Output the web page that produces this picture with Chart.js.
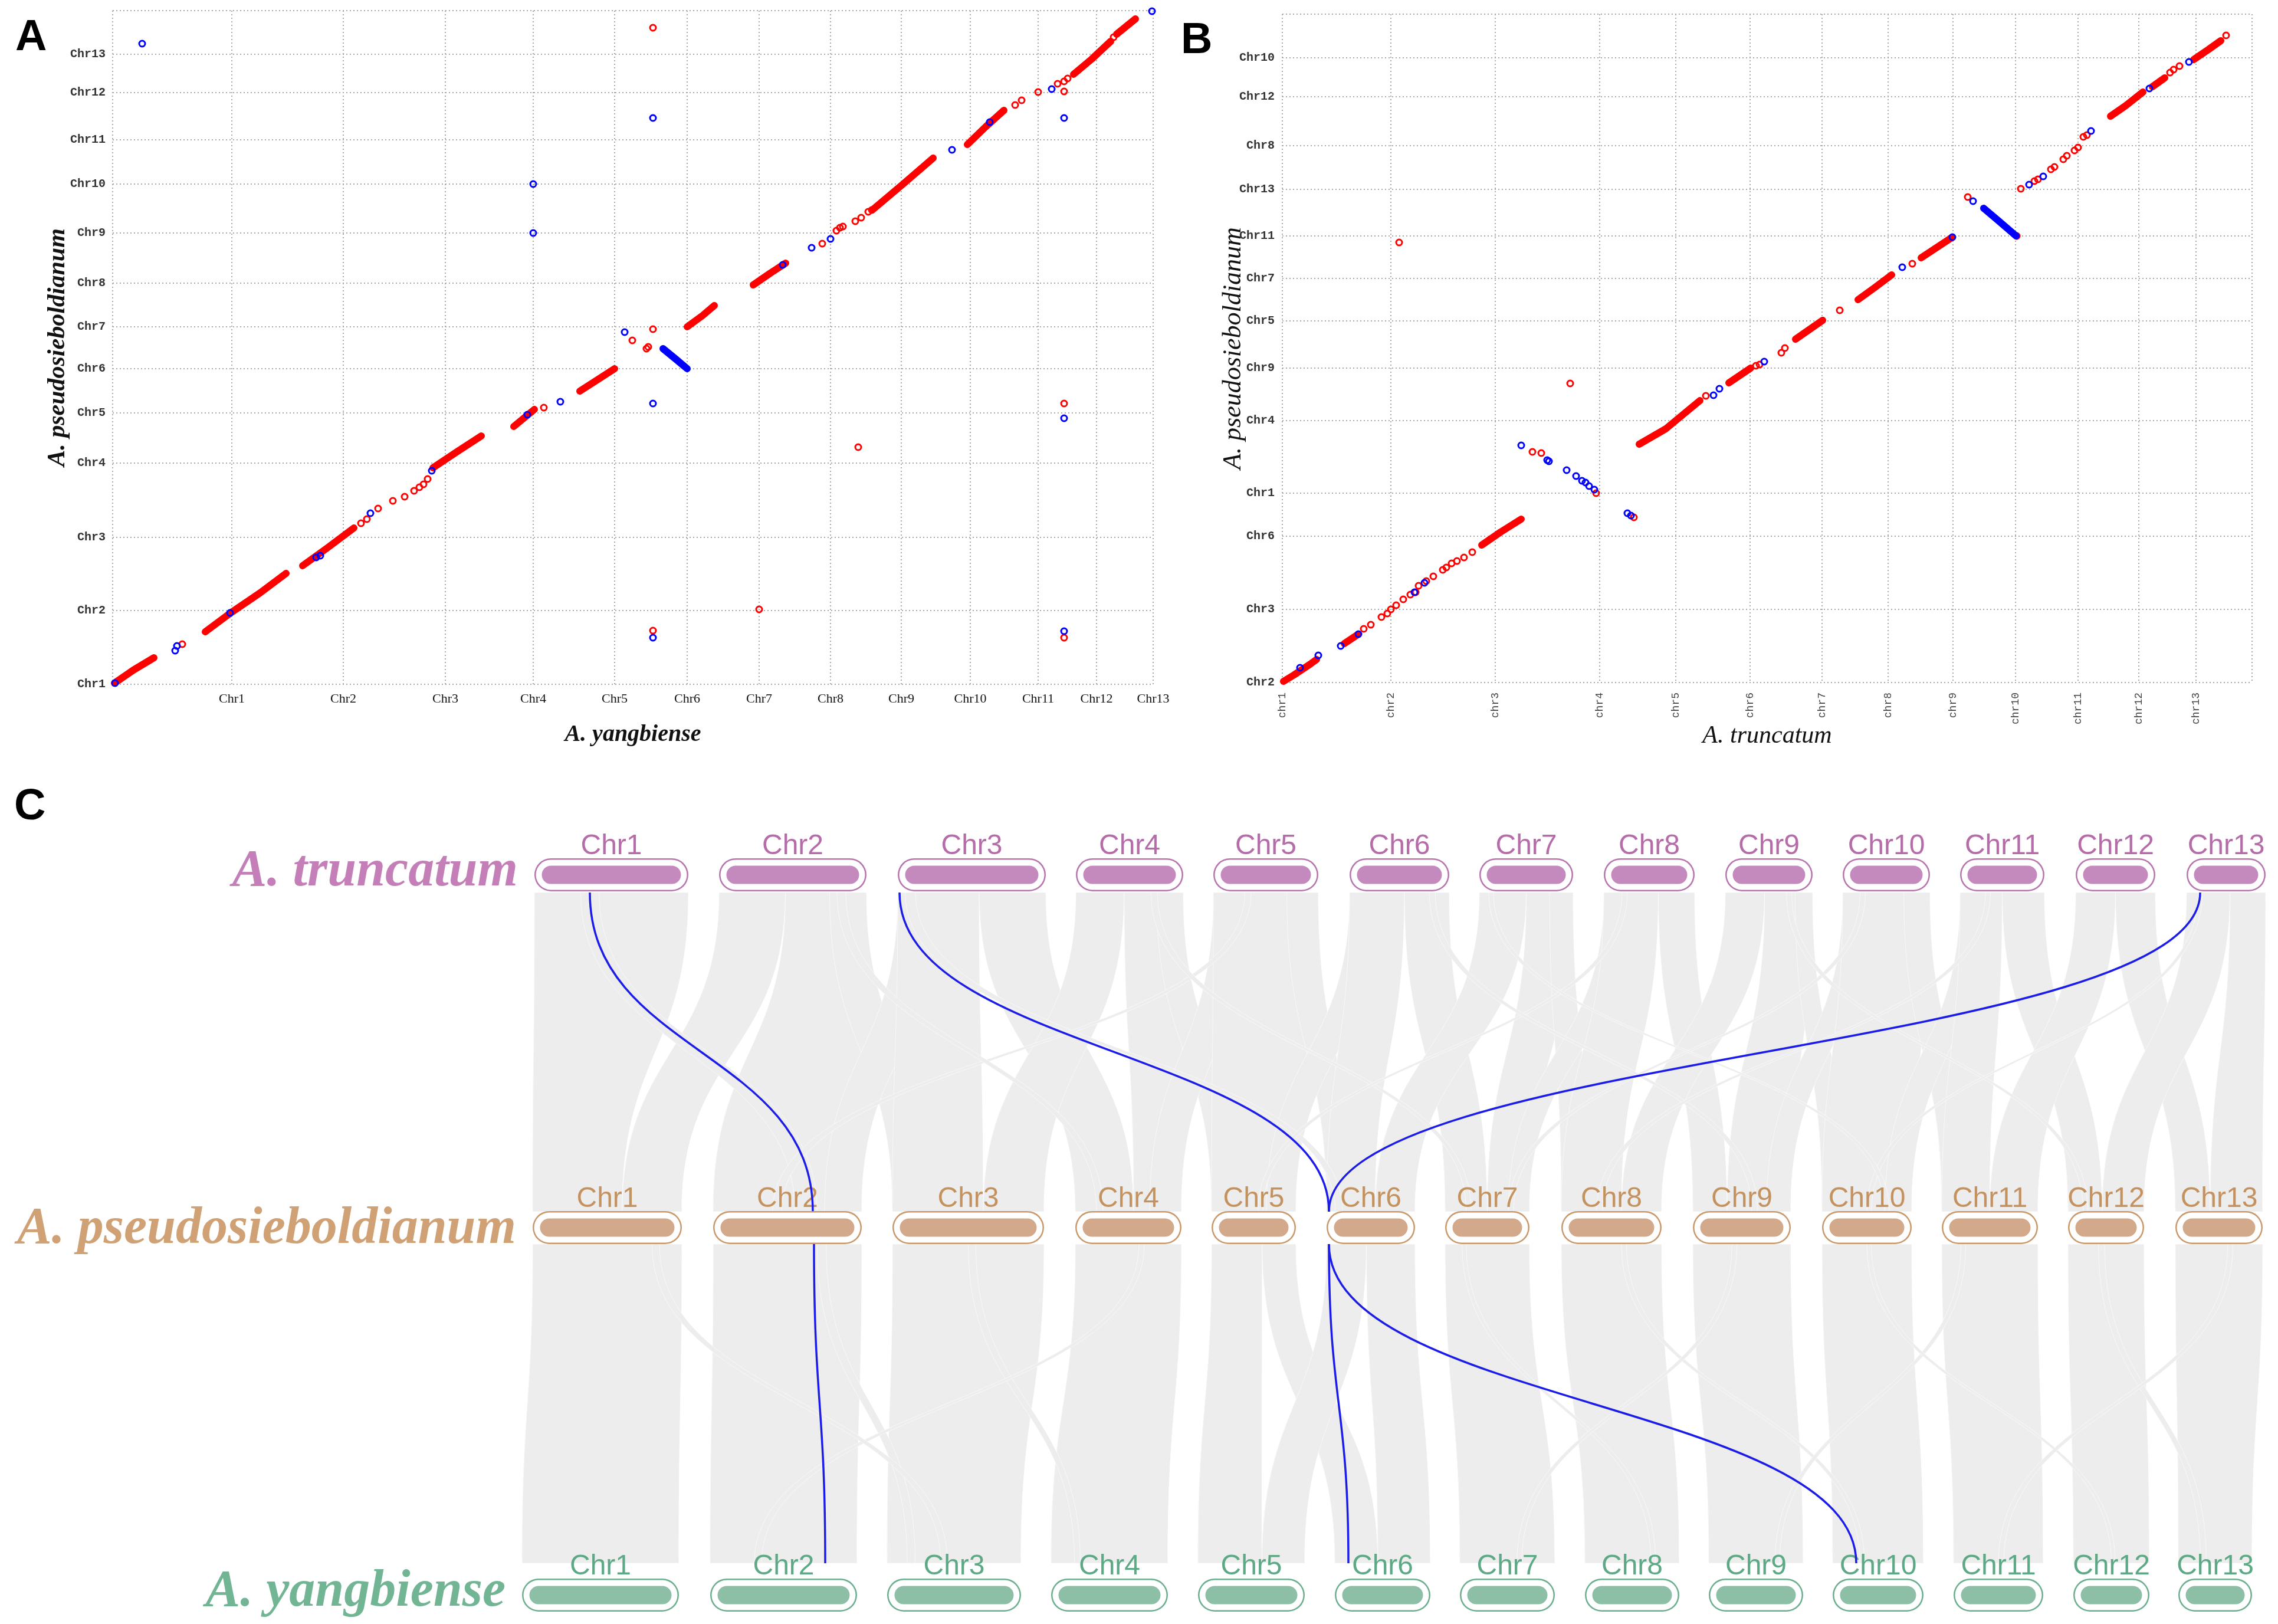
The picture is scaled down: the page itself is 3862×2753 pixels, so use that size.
<!DOCTYPE html>
<html>
<head>
<meta charset="utf-8">
<script src="https://cdn.jsdelivr.net/npm/chart.js@4.4.1/dist/chart.umd.min.js"></script>
<style>
  html, body { margin: 0; padding: 0; background: #fff; }
  body { width: 3862px; height: 2753px; position: relative; overflow: hidden; }
  canvas { position: absolute; }
  .tag { position: absolute; font: bold 74px "Liberation Sans", Arial, sans-serif; color: #000; line-height: 1; }
</style>
</head>
<body>
<div class="tag" style="left:26px;top:23px">A</div>
<div class="tag" style="left:2002px;top:28px">B</div>
<div class="tag" style="left:24px;top:1327px">C</div>
<canvas id="dotA" width="1990" height="1290" style="left:0;top:0;width:1990px;height:1290px"></canvas>
<canvas id="dotB" width="1872" height="1290" style="left:1990px;top:0;width:1872px;height:1290px"></canvas>
<canvas id="synteny" width="3862" height="1353" style="left:0;top:1400px;width:3862px;height:1353px"></canvas>
<script>
// ---------- Panel A: A. yangbiense (x) vs A. pseudosieboldianum (y) ----------
const aXTicks = [0, 202, 391, 564, 713, 851, 974, 1096, 1217, 1337, 1454, 1569, 1668, 1764];
const aXLabels = ['', 'Chr1', 'Chr2', 'Chr3', 'Chr4', 'Chr5', 'Chr6', 'Chr7', 'Chr8', 'Chr9', 'Chr10', 'Chr11', 'Chr12', 'Chr13'];
const aYTicks = [0, 125, 249, 375, 460, 535, 606, 680, 765, 848, 923, 1003, 1068, 1142];
const aYLabels = ['Chr1', 'Chr2', 'Chr3', 'Chr4', 'Chr5', 'Chr6', 'Chr7', 'Chr8', 'Chr9', 'Chr10', 'Chr11', 'Chr12', 'Chr13', ''];

// collinear runs (dense dots) and single dots
const aRedRuns = [
  [[3, 2], [35, 24], [70, 45]],
  [[157, 89], [200, 121], [250, 155], [294, 188]],
  [[322, 201], [365, 232], [409, 265]],
  [[543, 367], [585, 395], [625, 421]],
  [[680, 437], [715, 466]],
  [[792, 497], [820, 515], [851, 535]],
  [[974, 606], [1000, 625], [1020, 642]],
  [[1086, 677], [1115, 697], [1141, 714]],
  [[1289, 805], [1340, 848], [1391, 892]],
  [[1449, 915], [1480, 945], [1511, 973]],
  [[1629, 1034], [1660, 1060], [1692, 1090]],
  [[1702, 1102], [1734, 1128]]
];
const aBlueRuns = [
  [[933, 569], [955, 551], [974, 535]]
];
const aRedDots = [[118, 68], [421, 273], [431, 280], [450, 298], [475, 311], [495, 318], [511, 328], [520, 334],
  [527, 339], [534, 348], [731, 469], [881, 583], [905, 569], [908, 572], [916, 602], [916, 1113], [916, 91],
  [1096, 127], [1264, 402], [1203, 747], [1227, 769], [1233, 774], [1238, 776], [1259, 785], [1269, 791],
  [1281, 801], [1287, 804], [1530, 982], [1541, 990], [1569, 1004], [1602, 1018], [1613, 1022], [1619, 1027],
  [1613, 1005], [1697, 1097], [1613, 476], [1613, 79]];
const aBlueDots = [[4, 2], [106, 57], [109, 65], [199, 121], [345, 215], [352, 218], [437, 290], [541, 362],
  [703, 457], [759, 479], [868, 597], [916, 960], [916, 476], [916, 79], [1136, 711], [1185, 740], [1217, 755],
  [1423, 906], [1487, 953], [1592, 1009], [1613, 960], [1613, 451], [1613, 90], [1762, 1141], [50, 1086],
  [713, 848], [713, 765]];

// ---------- Panel B: A. truncatum (x) vs A. pseudosieboldianum (y) ----------
const bXTicks = [0, 184, 361, 538, 667, 793, 915, 1027, 1137, 1243, 1349, 1452, 1549, 1644];
const bXLabels = ['chr1', 'chr2', 'chr3', 'chr4', 'chr5', 'chr6', 'chr7', 'chr8', 'chr9', 'chr10', 'chr11', 'chr12', 'chr13', ''];
const bYTicks = [0, 124, 248, 321, 444, 533, 613, 685, 757, 836, 910, 993, 1059, 1133];
const bYLabels = ['Chr2', 'Chr3', 'Chr6', 'Chr1', 'Chr4', 'Chr9', 'Chr5', 'Chr7', 'Chr11', 'Chr13', 'Chr8', 'Chr12', 'Chr10', ''];

const bRedRuns = [
  [[2, 2], [20, 13], [47, 31], [58, 39]],
  [[105, 66], [129, 82]],
  [[338, 233], [370, 255], [405, 277]],
  [[605, 404], [650, 430], [708, 478]],
  [[757, 508], [794, 533]],
  [[870, 582], [916, 614]],
  [[976, 649], [1005, 670], [1033, 691]],
  [[1083, 720], [1136, 755]],
  [[1404, 960], [1430, 978], [1459, 1001]],
  [[1475, 1010], [1496, 1025]],
  [[1545, 1056], [1570, 1073], [1591, 1088]]
];
const bBlueRuns = [
  [[1189, 804], [1215, 782], [1244, 757]]
];
const bRedDots = [[138, 91], [150, 98], [168, 111], [178, 117], [184, 124], [193, 131], [205, 141], [217, 149],
  [226, 153], [231, 164], [244, 172], [256, 180], [272, 191], [278, 195], [287, 202], [296, 206], [308, 212],
  [322, 221], [424, 391], [439, 389], [532, 321], [488, 507], [198, 746], [596, 280], [718, 486], [803, 537],
  [809, 539], [846, 559], [852, 567], [945, 631], [1068, 710], [1162, 823], [1245, 757], [1252, 837], [1275, 850],
  [1281, 853], [1303, 870], [1309, 874], [1324, 887], [1330, 893], [1343, 902], [1349, 907], [1358, 925],
  [1364, 928], [1505, 1034], [1511, 1039], [1521, 1045], [1600, 1097]];
const bBlueDots = [[30, 25], [61, 46], [99, 62], [129, 82], [224, 153], [241, 169], [405, 402], [449, 377],
  [452, 375], [482, 360], [498, 350], [508, 342], [514, 339], [520, 333], [529, 327], [585, 287], [591, 283],
  [731, 487], [741, 498], [817, 544], [1051, 704], [1136, 755], [1171, 816], [1266, 844], [1290, 858],
  [1371, 935], [1470, 1007], [1537, 1052]];

// ---------- Panel C: synteny between the three genomes ----------
const chrNames = ['Chr1', 'Chr2', 'Chr3', 'Chr4', 'Chr5', 'Chr6', 'Chr7', 'Chr8', 'Chr9', 'Chr10', 'Chr11', 'Chr12', 'Chr13'];
const speciesNames = ['A. truncatum', 'A. pseudosieboldianum', 'A. yangbiense'];
const trackLevels = [1.96, 1.0, 0];
// chromosome spans on the shared layout axis
const truncatumSpans = [[906, 1167], [1219, 1469], [1522, 1773], [1824, 2006], [2057, 2235], [2288, 2457],
  [2508, 2667], [2719, 2873], [2925, 3073], [3124, 3272], [3323, 3466], [3519, 3654], [3707, 3841]];
const pseudoSpans = [[903, 1156], [1209, 1461], [1513, 1770], [1823, 2003], [2054, 2197], [2249, 2399],
  [2450, 2593], [2647, 2817], [2870, 3036], [3089, 3241], [3292, 3455], [3506, 3635], [3688, 3836]];
const yangSpans = [[885, 1151], [1204, 1453], [1504, 1731], [1782, 1980], [2031, 2212], [2263, 2425],
  [2475, 2636], [2687, 2847], [2897, 3057], [3107, 3261], [3312, 3464], [3515, 3644], [3693, 3818]];

// synteny blocks: [upper chr, from, to, lower chr, from, to] (fractions of chromosome length)
const topBlocks = [
  [1, 0.00, 1.00, 1, 0.00, 0.60], [2, 0.00, 0.45, 1, 0.60, 1.00], [2, 0.45, 1.00, 2, 0.00, 1.00],
  [1, 0.30, 0.42, 2, 0.55, 0.70], [2, 0.75, 1.00, 3, 0.00, 0.30], [3, 0.00, 0.30, 2, 0.75, 1.00],
  [3, 0.00, 0.55, 3, 0.00, 0.60], [3, 0.55, 1.00, 4, 0.00, 0.55],
  [4, 0.00, 0.45, 3, 0.60, 1.00], [4, 0.45, 1.00, 4, 0.55, 1.00], [4, 0.75, 1.00, 5, 0.00, 0.40],
  [5, 0.00, 0.35, 4, 0.70, 1.00], [5, 0.00, 1.00, 5, 0.00, 1.00], [5, 0.70, 1.00, 6, 0.00, 0.30],
  [6, 0.00, 0.30, 5, 0.65, 1.00],
  [6, 0.00, 0.55, 6, 0.00, 0.55], [6, 0.55, 1.00, 7, 0.00, 0.50], [7, 0.00, 0.50, 6, 0.55, 1.00],
  [7, 0.50, 1.00, 7, 0.50, 1.00], [7, 0.75, 1.00, 8, 0.00, 0.30], [8, 0.00, 0.30, 7, 0.75, 1.00],
  [8, 0.00, 0.60, 8, 0.00, 0.60], [8, 0.60, 1.00, 9, 0.00, 0.35],
  [9, 0.00, 0.45, 8, 0.60, 1.00], [9, 0.45, 1.00, 9, 0.35, 1.00], [9, 0.80, 1.00, 10, 0.00, 0.30],
  [10, 0.00, 0.30, 9, 0.75, 1.00], [10, 0.00, 1.00, 10, 0.00, 1.00], [10, 0.70, 1.00, 11, 0.00, 0.35],
  [11, 0.00, 0.30, 10, 0.70, 1.00],
  [11, 0.00, 0.50, 11, 0.00, 0.50], [11, 0.50, 1.00, 12, 0.00, 0.45], [12, 0.00, 0.50, 11, 0.50, 1.00],
  [12, 0.50, 1.00, 13, 0.00, 0.40], [13, 0.00, 0.55, 12, 0.45, 1.00], [13, 0.55, 1.00, 13, 0.40, 1.00],
  [3, 0.05, 0.12, 6, 0.10, 0.18], [5, 0.30, 0.36, 2, 0.40, 0.46], [4, 0.70, 0.76, 7, 0.25, 0.31],
  [8, 0.20, 0.26, 5, 0.55, 0.61], [6, 0.80, 0.86, 9, 0.60, 0.66], [10, 0.20, 0.26, 7, 0.75, 0.81],
  [11, 0.30, 0.36, 8, 0.35, 0.41], [9, 0.70, 0.76, 12, 0.20, 0.26], [13, 0.15, 0.20, 10, 0.50, 0.55],
  [2, 0.80, 0.86, 4, 0.20, 0.26], [7, 0.10, 0.15, 10, 0.70, 0.75]
];
const bottomBlocks = [
  [1, 0.00, 1.00, 1, 0.00, 1.00], [2, 0.00, 1.00, 2, 0.00, 1.00], [3, 0.00, 1.00, 3, 0.00, 1.00],
  [4, 0.00, 1.00, 4, 0.00, 1.00], [5, 0.00, 0.60, 5, 0.00, 0.60], [5, 0.60, 1.00, 6, 0.00, 0.45],
  [6, 0.00, 0.45, 5, 0.60, 1.00], [6, 0.45, 1.00, 6, 0.45, 1.00], [7, 0.00, 1.00, 7, 0.00, 1.00],
  [8, 0.00, 1.00, 8, 0.00, 1.00], [9, 0.00, 1.00, 9, 0.00, 1.00], [10, 0.00, 1.00, 10, 0.00, 1.00],
  [11, 0.00, 1.00, 11, 0.00, 1.00], [12, 0.00, 1.00, 12, 0.00, 1.00], [13, 0.00, 1.00, 13, 0.00, 1.00],
  [2, 0.70, 0.76, 3, 0.15, 0.21], [3, 0.50, 0.55, 4, 0.20, 0.25], [4, 0.60, 0.65, 2, 0.30, 0.35],
  [7, 0.20, 0.25, 8, 0.70, 0.75], [8, 0.60, 0.65, 10, 0.30, 0.35], [9, 0.40, 0.45, 7, 0.60, 0.65],
  [11, 0.20, 0.25, 9, 0.70, 0.75], [10, 0.50, 0.55, 12, 0.50, 0.55], [12, 0.40, 0.48, 13, 0.30, 0.38],
  [13, 0.60, 0.66, 11, 0.50, 0.56], [1, 0.80, 0.85, 3, 0.40, 0.45]
];
// highlighted gene pairs: [upper position, lower position]
const topLinks = [[1000, 1378], [1525, 2253], [3730, 2253]];
const bottomLinks = [[1380, 1399], [2253, 2286], [2253, 3147]];

// ---------- helpers ----------
function pts(list) {
  return list.map(p => ({x: p[0], y: p[1]}));
}
function runs(list) {
  const out = [];
  list.forEach(r => {
    r.forEach(p => out.push({x: p[0], y: p[1]}));
    out.push({x: null, y: null});
  });
  return out;
}

function runSet(data, color) {
  return {
    data: runs(data), showLine: true, spanGaps: false, borderColor: color, borderWidth: 12,
    borderCapStyle: 'round', borderJoinStyle: 'round', pointRadius: 0, pointHoverRadius: 0, clip: false
  };
}
function dotSet(data, color) {
  return {
    data: pts(data), showLine: false, pointRadius: 5, pointHoverRadius: 5, pointBorderWidth: 3,
    pointBorderColor: color, pointBackgroundColor: 'rgba(255,255,255,0)', clip: false
  };
}

function dotplot(id, o) {
  return new Chart(document.getElementById(id), {
    type: 'scatter',
    data: {
      datasets: [
        dotSet(o.blueDots, '#0000ff'), runSet(o.blueRuns, '#0000ff'),
        dotSet(o.redDots, '#ff0000'), runSet(o.redRuns, '#ff0000')
      ]
    },
    options: {
      responsive: false, animation: false, events: [],
      layout: {padding: o.padding},
      plugins: {legend: {display: false}, tooltip: {enabled: false}},
      scales: {
        x: {
          type: 'linear', min: 0, max: o.xTicks[o.xTicks.length - 1],
          afterBuildTicks: s => { s.ticks = o.xTicks.map(v => ({value: v})); },
          afterFit: s => { s.height = o.xHeight; s.paddingLeft = 0; s.paddingRight = 0; },
          ticks: {
            autoSkip: false, callback: (v, i) => o.xLabels[i], padding: o.xPad,
            minRotation: o.xRot, maxRotation: o.xRot, font: o.xFont, color: o.tickColor
          },
          grid: {color: '#a9a9a9', lineWidth: 2, drawTicks: false},
          border: {display: false, dash: [2, 4]},
          title: {display: true, text: o.xTitle, font: o.titleFont, color: '#111', padding: {top: 0, bottom: o.xTitlePad}}
        },
        y: {
          type: 'linear', min: 0, max: o.yTicks[o.yTicks.length - 1],
          afterBuildTicks: s => { s.ticks = o.yTicks.map(v => ({value: v})); },
          afterFit: s => { s.width = o.yWidth; s.paddingTop = 0; s.paddingBottom = 0; },
          ticks: {autoSkip: false, callback: (v, i) => o.yLabels[i], padding: o.yPad, font: o.yFont, color: '#333'},
          grid: {color: '#a9a9a9', lineWidth: 2, drawTicks: false},
          border: {display: false, dash: [2, 4]},
          title: {display: true, text: 'A. pseudosieboldianum', font: o.yTitleFont, color: '#111', padding: {top: o.yTitlePad, bottom: 0}}
        }
      }
    }
  });
}

dotplot('dotA', {
  xTicks: aXTicks, xLabels: aXLabels, yTicks: aYTicks, yLabels: aYLabels,
  redRuns: aRedRuns, blueRuns: aBlueRuns, redDots: aRedDots, blueDots: aBlueDots,
  padding: {left: 0, top: 18, right: 35, bottom: 0}, xHeight: 130, yWidth: 191,
  xPad: 12, yPad: 12, xRot: 0, tickColor: '#111',
  xFont: {family: '"Liberation Serif", serif', size: 22},
  yFont: {family: '"Liberation Mono", monospace', size: 20, weight: 'bold'},
  xTitle: 'A. yangbiense', xTitlePad: 20, yTitlePad: 73,
  titleFont: {family: '"Liberation Serif", serif', size: 40, style: 'italic', weight: 'bold'},
  yTitleFont: {family: '"Liberation Serif", serif', size: 42, style: 'italic', weight: 'bold'}
});

dotplot('dotB', {
  xTicks: bXTicks, xLabels: bXLabels, yTicks: bYTicks, yLabels: bYLabels,
  redRuns: bRedRuns, blueRuns: bBlueRuns, redDots: bRedDots, blueDots: bBlueDots,
  padding: {left: 0, top: 24, right: 44, bottom: 0}, xHeight: 133, yWidth: 184,
  xPad: 17, yPad: 13, xRot: 90, tickColor: '#444',
  xFont: {family: '"Liberation Mono", monospace', size: 18},
  yFont: {family: '"Liberation Mono", monospace', size: 20, weight: 'bold'},
  xTitle: 'A. truncatum', xTitlePad: 17, yTitlePad: 75,
  titleFont: {family: '"Liberation Serif", serif', size: 42, style: 'italic'},
  yTitleFont: {family: '"Liberation Serif", serif', size: 44, style: 'italic'}
});

// ---------- synteny panel ----------
const genomes = [
  {spans: truncatumSpans, fill: '#c48abe', edge: '#b774ae', label: '#b56ca9', species: '#c47fb9', nameDy: 18},
  {spans: pseudoSpans, fill: '#d2a98a', edge: '#c9996c', label: '#c4925f', species: '#cfa175', nameDy: 26},
  {spans: yangSpans, fill: '#8dbfa6', edge: '#6caf8e', label: '#5ea985', species: '#72b595', nameDy: 18}
];

function barSet(g, level, width, color) {
  const data = [];
  g.spans.forEach(s => {
    data.push({x: s[0] + 28, y: level}, {x: s[1] - 28, y: level}, {x: null, y: null});
  });
  return {
    data: data, showLine: true, spanGaps: false, borderColor: color, borderWidth: width,
    borderCapStyle: 'round', pointRadius: 0, pointHoverRadius: 0, clip: false
  };
}

const barDatasets = [];
genomes.forEach((g, i) => {
  barDatasets.push(barSet(g, trackLevels[i], 31, g.fill));
  barDatasets.push(barSet(g, trackLevels[i], 51, '#ffffff'));
  barDatasets.push(barSet(g, trackLevels[i], 56, g.edge));
});

const syntenyPlugin = {
  id: 'synteny',
  beforeDatasetsDraw(chart) {
    const {ctx, scales: {x, y}} = chart;
    const rowY = trackLevels.map(v => y.getPixelForValue(v));
    const bands = [
      {blocks: topBlocks, up: genomes[0], low: genomes[1], y1: rowY[0] + 30, y2: rowY[1] - 27, links: topLinks},
      {blocks: bottomBlocks, up: genomes[1], low: genomes[2], y1: rowY[1] + 28, y2: rowY[2] - 54, links: bottomLinks}
    ];
    const at = (span, f) => x.getPixelForValue(span[0] + (span[1] - span[0]) * f);

    ctx.save();
    // grey synteny ribbons
    ctx.fillStyle = '#ededed';
    ctx.strokeStyle = 'rgba(255,255,255,0.6)';
    ctx.lineWidth = 1;
    bands.forEach(b => {
      const ym = (b.y1 + b.y2) / 2;
      b.blocks.forEach(k => {
        const s1 = b.up.spans[k[0] - 1], s2 = b.low.spans[k[3] - 1];
        const a1 = at(s1, k[1]), a2 = at(s1, k[2]), c1 = at(s2, k[4]), c2 = at(s2, k[5]);
        ctx.beginPath();
        ctx.moveTo(a1, b.y1);
        ctx.lineTo(a2, b.y1);
        ctx.bezierCurveTo(a2, ym, c2, ym, c2, b.y2);
        ctx.lineTo(c1, b.y2);
        ctx.bezierCurveTo(c1, ym, a1, ym, a1, b.y1);
        ctx.closePath();
        ctx.fill();
        ctx.stroke();
      });
    });

    // chromosome and species labels
    ctx.textAlign = 'center';
    ctx.textBaseline = 'alphabetic';
    genomes.forEach((g, i) => {
      ctx.font = '48px "Liberation Sans", Arial, sans-serif';
      ctx.fillStyle = g.label;
      g.spans.forEach((s, j) => {
        ctx.fillText(chrNames[j], x.getPixelForValue((s[0] + s[1]) / 2), rowY[i] - 35);
      });
    });
    ctx.textAlign = 'right';
    ctx.font = 'italic bold 88px "Liberation Serif", serif';
    genomes.forEach((g, i) => {
      ctx.fillStyle = g.species;
      ctx.fillText(speciesNames[i], x.getPixelForValue(g.spans[0][0]) - 28, rowY[i] + g.nameDy);
    });

    // highlighted links
    ctx.strokeStyle = '#1c1ce8';
    ctx.lineWidth = 3.5;
    bands.forEach(b => {
      const ym = (b.y1 + b.y2) / 2;
      b.links.forEach(l => {
        const xa = x.getPixelForValue(l[0]), xb = x.getPixelForValue(l[1]);
        ctx.beginPath();
        ctx.moveTo(xa, b.y1);
        ctx.bezierCurveTo(xa, ym, xb, ym, xb, b.y2);
        ctx.stroke();
      });
    });
    ctx.restore();
  }
};

new Chart(document.getElementById('synteny'), {
  type: 'scatter',
  data: {datasets: barDatasets},
  options: {
    responsive: false, animation: false, events: [],
    layout: {padding: 0},
    plugins: {legend: {display: false}, tooltip: {enabled: false}},
    scales: {
      x: {type: 'linear', display: false, min: 0, max: 3862},
      y: {type: 'linear', display: false, min: -0.0787, max: 2.0931}
    }
  },
  plugins: [syntenyPlugin]
});
</script>
</body>
</html>
